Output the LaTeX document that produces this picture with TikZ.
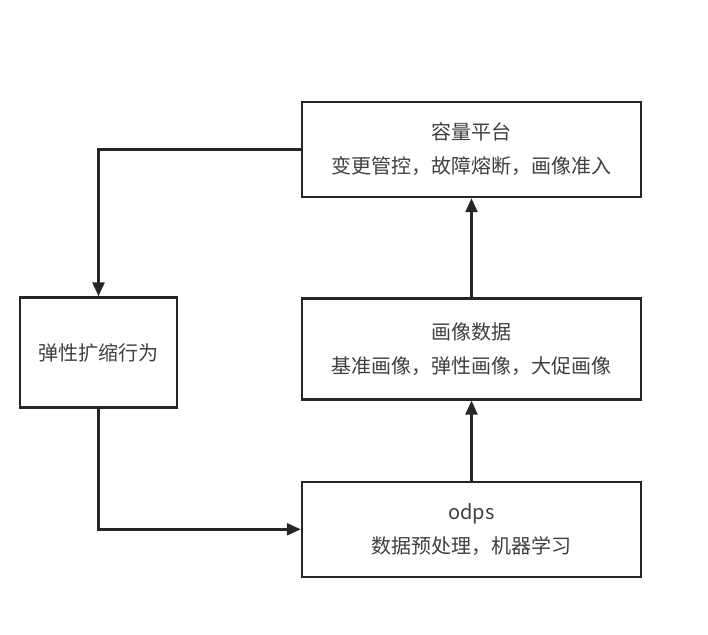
\documentclass[tikz,border=0pt]{standalone}
\usepackage{fontspec}
\newfontfamily\cjk{Noto Sans CJK SC}
\usetikzlibrary{arrows.meta,positioning}

\begin{document}
\begin{tikzpicture}[x=1pt,y=-1pt,node distance=99pt,
          box/.style={draw=black!85,line width=2.4pt,fill=white,minimum width=339pt,minimum height=95pt,
            align=center,text=black!75,font=\cjk\fontsize{20}{34}\selectfont},
          link/.style={draw=black!85,line width=2.4pt,-{Triangle[length=14pt,width=12pt]}}]
        \useasboundingbox (0,0) rectangle (708,634);
        \node[box] (platform) at (471.5,149.5) {容量平台\\变更管控，故障熔断，画像准入};
        \node[box,minimum height=101pt,below=of platform] (portrait) {画像数据\\基准画像，弹性画像，大促画像};
        \node[box,below=80pt of portrait] (odps) {odps\\数据预处理，机器学习};
        \node[box,minimum width=157pt,minimum height=110pt] (elastic) at (98.5,352.5) {弹性扩缩行为};
        \draw[link] (odps) -- (portrait);
        \draw[link] (portrait) -- (platform);
        \draw[link] (platform.west) -| (elastic.north);
        \draw[link] (elastic.south) |- (odps.west);
      \end{tikzpicture}
\end{document}
